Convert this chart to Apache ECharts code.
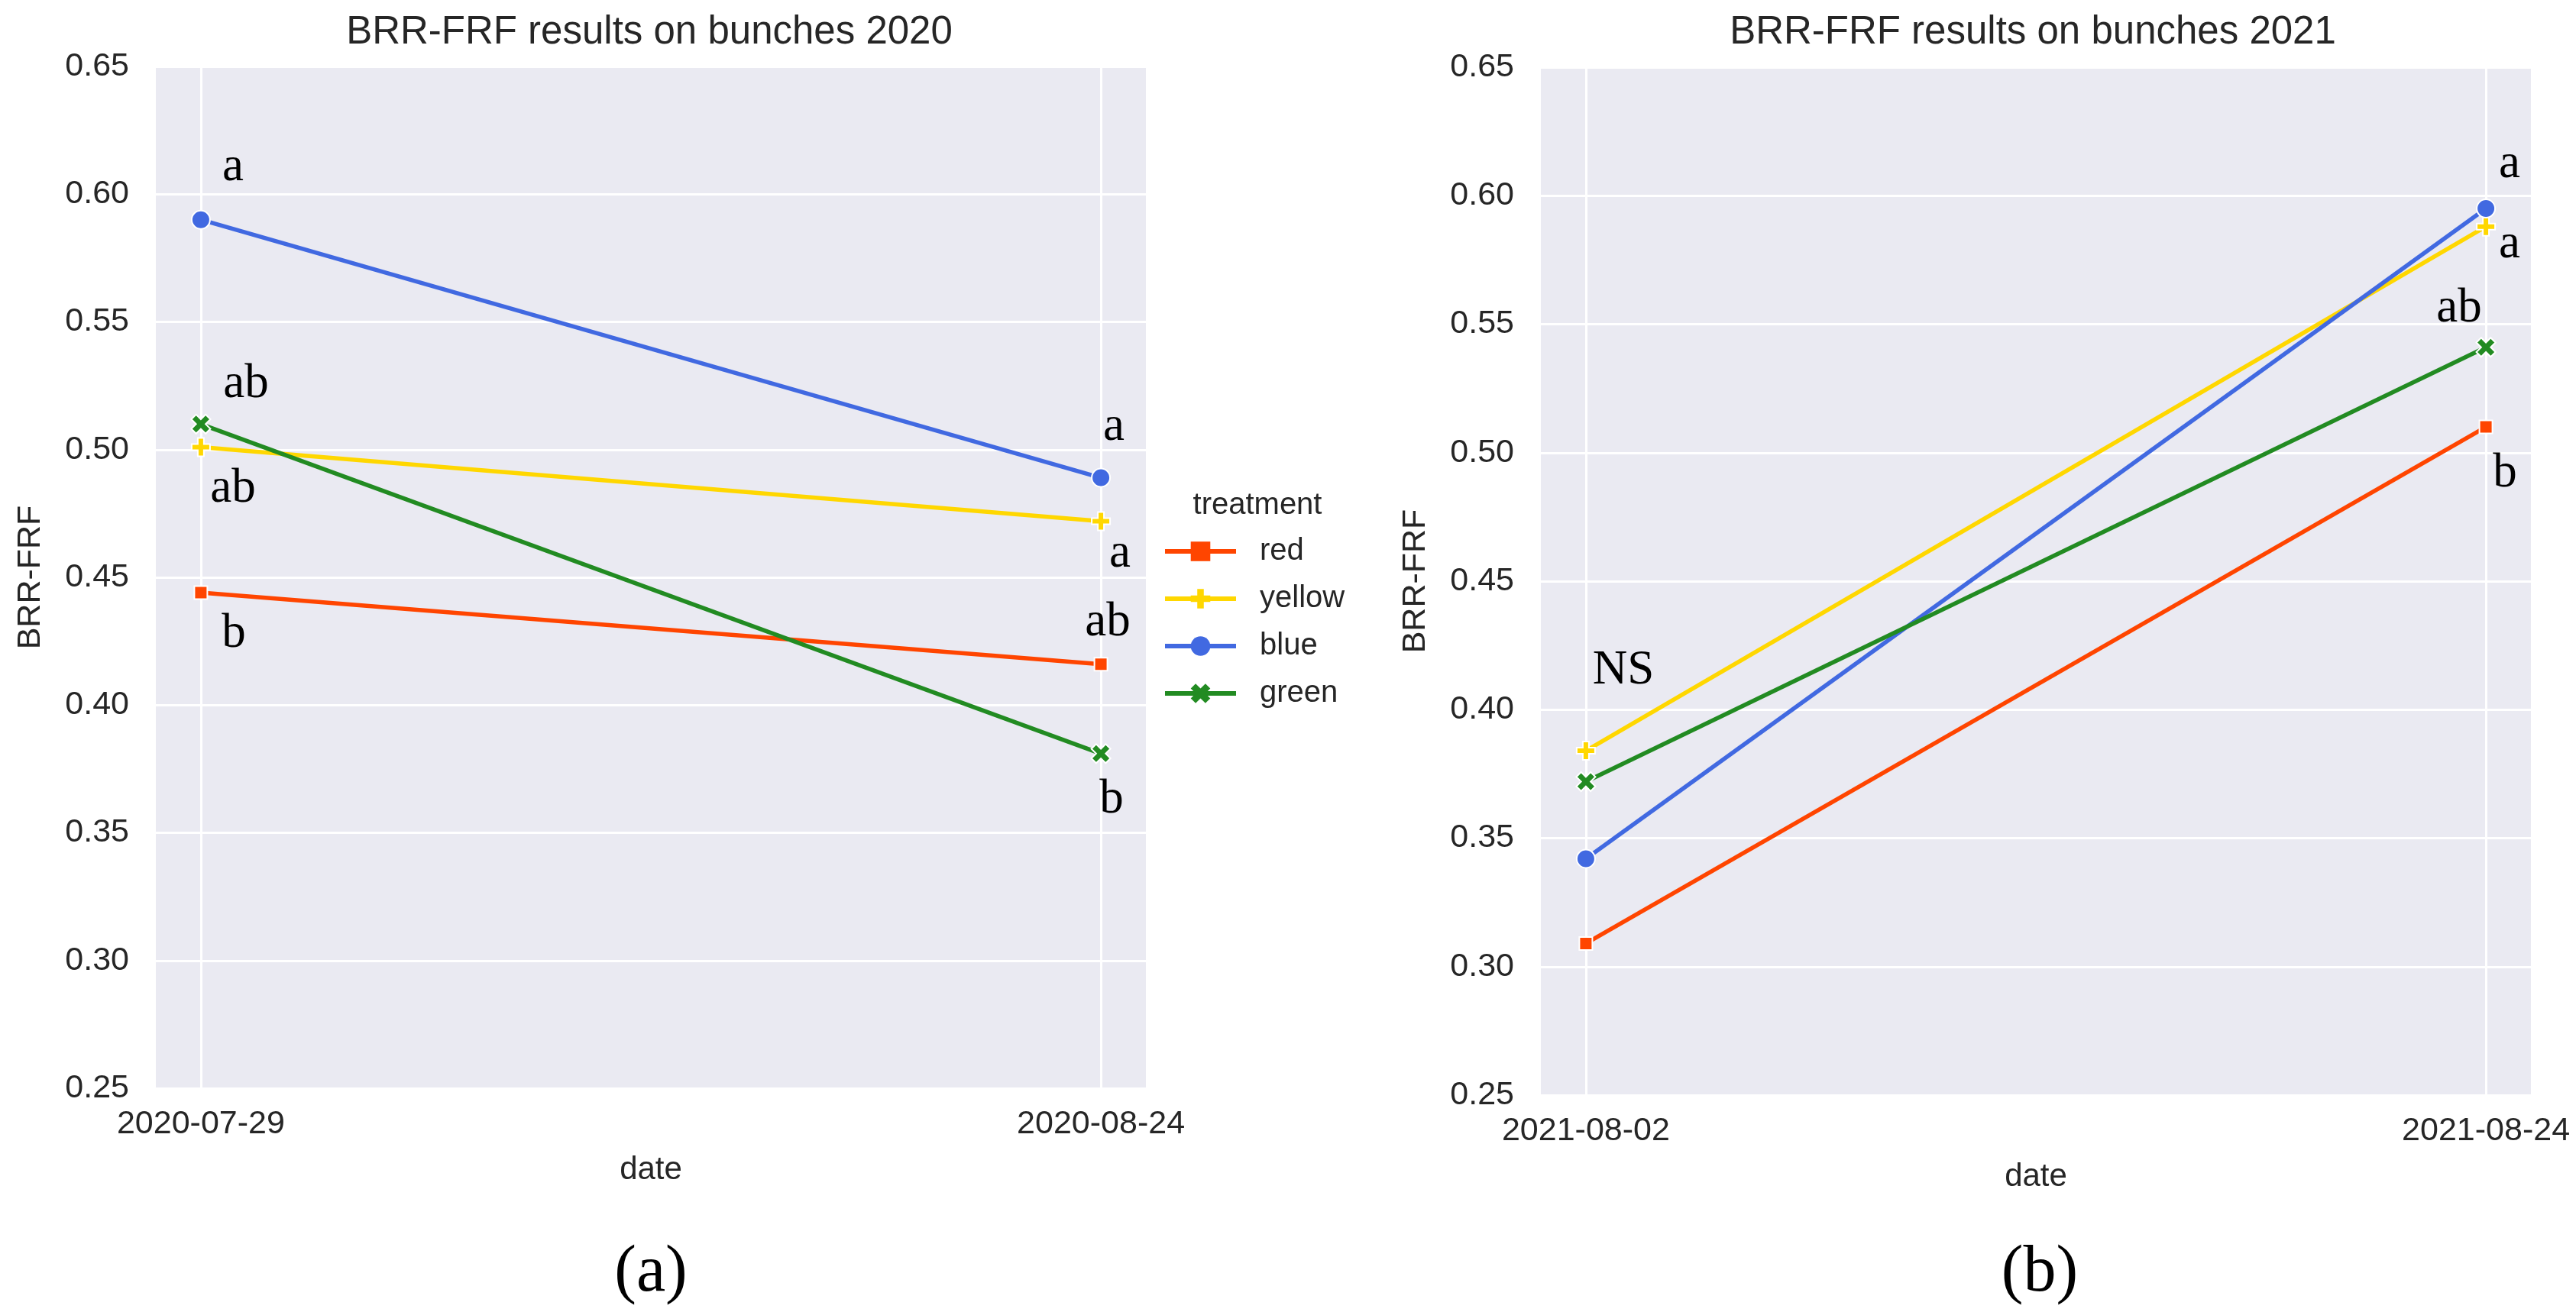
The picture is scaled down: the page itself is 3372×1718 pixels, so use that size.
<!DOCTYPE html>
<html>
<head>
<meta charset="utf-8">
<script src="https://cdn.jsdelivr.net/npm/echarts@6/dist/echarts.min.js"></script>
<style>
html,body{margin:0;padding:0;background:#fff;}
#chart{width:3372px;height:1718px;}
</style>
</head>
<body>
<div id="chart"></div>
<script>
// ---------------- data ----------------
const treatments = ['red', 'yellow', 'blue', 'green'];
const dates2020 = ['2020-07-29', '2020-08-24'];
const dates2021 = ['2021-08-02', '2021-08-24'];
const yTicks = [0.25, 0.30, 0.35, 0.40, 0.45, 0.50, 0.55, 0.60, 0.65];

const red2020 = [0.444, 0.416];
const yellow2020 = [0.501, 0.472];
const blue2020 = [0.590, 0.489];
const green2020 = [0.510, 0.381];

const red2021 = [0.309, 0.510];
const yellow2021 = [0.384, 0.588];
const blue2021 = [0.342, 0.595];
const green2021 = [0.372, 0.541];

// significance letters per point
const redLetters2020 = ['b', 'ab'];
const yellowLetters2020 = ['ab', 'a'];
const blueLetters2020 = ['a', 'a'];
const greenLetters2020 = ['ab', 'b'];
const redLetters2021 = ['', 'b'];
const yellowLetters2021 = ['NS', 'a'];
const blueLetters2021 = ['', 'a'];
const greenLetters2021 = ['', 'ab'];

// ---------------- style ----------------
const COLORS = {red: '#FF4500', yellow: '#FFD700', blue: '#4169E1', green: '#228B22'};
const PLUS = 'path://M-1,-3H1V-1H3V1H1V3H-1V1H-3V-1H-1Z';
const XMARK = 'path://M2,-4L4,-2L2,0L4,2L2,4L0,2L-2,4L-4,2L-2,0L-4,-2L-2,-4L0,-2Z';
const SYMBOLS = {red: ['rect', 17], yellow: [PLUS, 24], blue: ['circle', 24], green: [XMARK, 25]};
// label offsets in pixels [dx, dy] relative to each point
const OFFS2020 = {
  red: [[43, 54], [9, -54]],
  yellow: [[42, 55], [25, 43]],
  blue: [[42, -68], [17, -66]],
  green: [[59, -52], [14, 61]]
};
const OFFS2021 = {
  red: [[0, 0], [25, 61]],
  yellow: [[49, -105], [31, 24]],
  blue: [[0, 0], [31, -58]],
  green: [[0, 0], [-35, -50]]
};
const TEXT = '#262626';
const SANS = 'Liberation Sans, Arial, sans-serif';
const SERIF = 'Liberation Serif, Times New Roman, serif';

const vals2020 = {red: red2020, yellow: yellow2020, blue: blue2020, green: green2020};
const vals2021 = {red: red2021, yellow: yellow2021, blue: blue2021, green: green2021};
const let2020 = {red: redLetters2020, yellow: yellowLetters2020, blue: blueLetters2020, green: greenLetters2020};
const let2021 = {red: redLetters2021, yellow: yellowLetters2021, blue: blueLetters2021, green: greenLetters2021};

function makeSeries(idx, vals, letters, offs) {
  return treatments.map(t => ({
    name: t,
    type: 'line',
    xAxisIndex: idx,
    yAxisIndex: idx,
    symbol: SYMBOLS[t][0],
    symbolSize: SYMBOLS[t][1],
    showAllSymbol: true,
    lineStyle: {color: COLORS[t], width: 5.5},
    itemStyle: {color: COLORS[t], borderColor: '#ffffff', borderWidth: 2, opacity: 1},
    emphasis: {disabled: true},
    z: 3,
    data: vals[t].map((v, i) => ({
      value: [i, v],
      label: {
        show: letters[t][i] !== '',
        formatter: letters[t][i],
        position: 'inside',
        offset: offs[t][i],
        fontFamily: SERIF,
        fontSize: 63,
        color: '#000000'
      }
    }))
  }));
}

function xAxis(idx, dates) {
  return {
    type: 'value', gridIndex: idx, min: -0.05, max: 1.05,
    name: 'date', nameLocation: 'middle', nameGap: 86,
    nameTextStyle: {fontFamily: SANS, fontSize: 42, color: TEXT},
    axisLine: {show: false},
    axisTick: {show: false, customValues: [0, 1]},
    axisLabel: {customValues: [0, 1], formatter: v => dates[Math.round(v)],
      fontFamily: SANS, fontSize: 43, color: TEXT, margin: 26},
    splitLine: {show: true, lineStyle: {color: '#ffffff', width: 3}}
  };
}
function yAxis(idx) {
  return {
    type: 'value', gridIndex: idx, min: yTicks[0], max: yTicks[yTicks.length - 1], interval: 0.05,
    name: 'BRR-FRF', nameLocation: 'middle', nameGap: 142,
    nameTextStyle: {fontFamily: SANS, fontSize: 43, color: TEXT},
    axisLine: {show: false}, axisTick: {show: false},
    axisLabel: {formatter: v => v.toFixed(2), fontFamily: SANS, fontSize: 43, color: TEXT, margin: 35},
    splitLine: {show: true, lineStyle: {color: '#ffffff', width: 3}}
  };
}

const chart = echarts.init(document.getElementById('chart'), null, {renderer: 'canvas'});
chart.setOption({
  backgroundColor: '#ffffff',
  animation: false,
  grid: [
    {left: 204, top: 87, width: 1296, height: 1338, show: true, backgroundColor: '#EAEAF2', borderWidth: 0},
    {left: 2017, top: 88, width: 1296, height: 1346, show: true, backgroundColor: '#EAEAF2', borderWidth: 0}
  ],
  xAxis: [xAxis(0, dates2020), xAxis(1, dates2021)],
  yAxis: [yAxis(0), yAxis(1)],
  legend: {
    data: treatments,
    orient: 'vertical',
    left: 1522, top: 702, padding: 0,
    itemWidth: 93, itemHeight: 32, itemGap: 22,
    textStyle: {fontFamily: SANS, fontSize: 40, color: TEXT, lineHeight: 40, padding: [0, 0, 0, 26]},
    itemStyle: {borderWidth: 0},
    lineStyle: {width: 6}
  },
  graphic: [
    {type: 'text', x: 850, y: 43, style: {text: 'BRR-FRF results on bunches 2020', font: '51px ' + SANS, fill: TEXT, align: 'center', verticalAlign: 'middle'}},
    {type: 'text', x: 2661, y: 43, style: {text: 'BRR-FRF results on bunches 2021', font: '51px ' + SANS, fill: TEXT, align: 'center', verticalAlign: 'middle'}},
    {type: 'text', x: 1646, y: 662, style: {text: 'treatment', font: '40px ' + SANS, fill: TEXT, align: 'center', verticalAlign: 'middle'}},
    {type: 'text', x: 852, y: 1667, style: {text: '(a)', font: '86px ' + SERIF, fill: '#000', align: 'center', verticalAlign: 'middle'}},
    {type: 'text', x: 2670, y: 1667, style: {text: '(b)', font: '86px ' + SERIF, fill: '#000', align: 'center', verticalAlign: 'middle'}}
  ],
  series: makeSeries(0, vals2020, let2020, OFFS2020).concat(makeSeries(1, vals2021, let2021, OFFS2021))
});
</script>
</body>
</html>
